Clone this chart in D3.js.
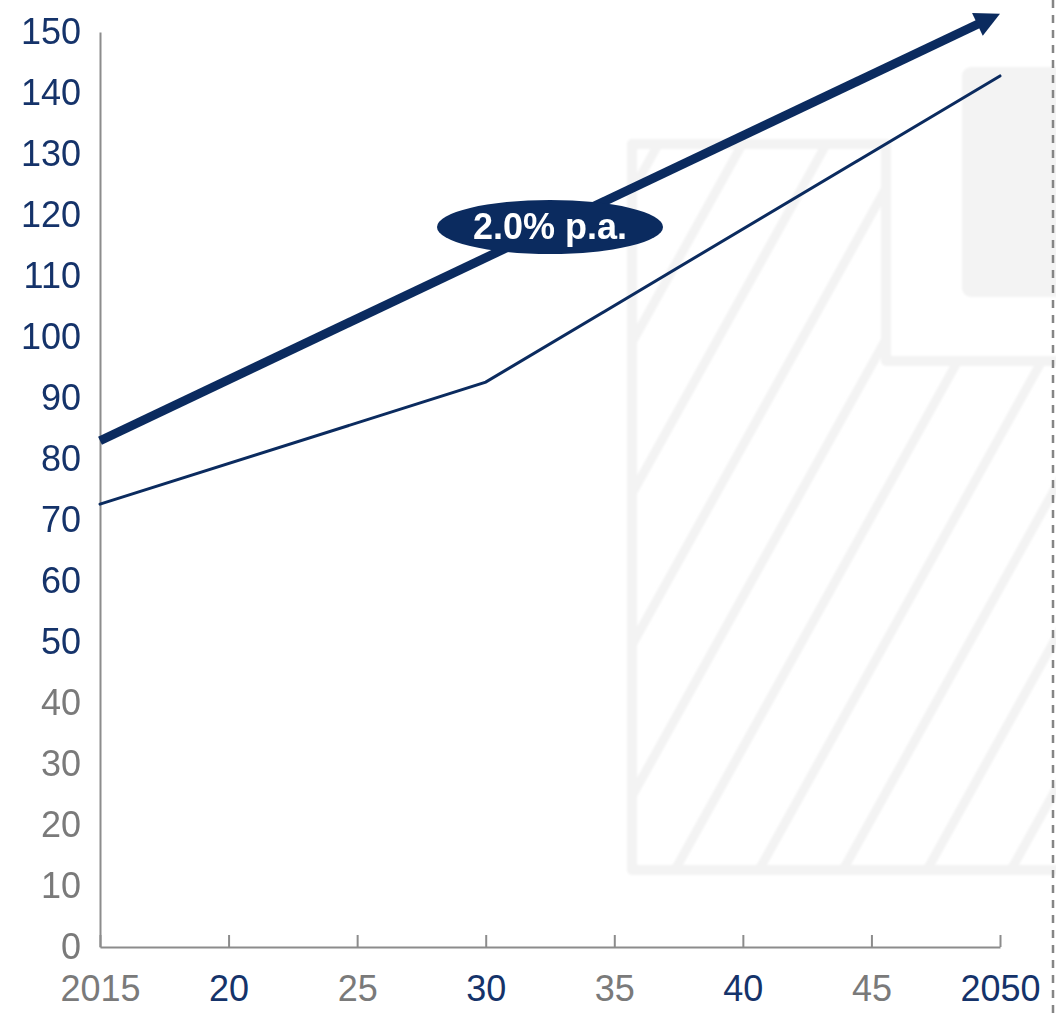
<!DOCTYPE html>
<html>
<head>
<meta charset="utf-8">
<script src="https://cdn.jsdelivr.net/npm/d3@7"></script>
<style>
  html, body { margin: 0; padding: 0; background: #ffffff; }
  svg { display: block; }
  text { font-family: "Liberation Sans", Arial, sans-serif; }
</style>
</head>
<body>
<svg id="chart" width="1056" height="1017"></svg>
<script>
// ---- data ----
const xTickYears  = [2015, 2020, 2025, 2030, 2035, 2040, 2045, 2050];
const xTickLabels = ["2015", "20", "25", "30", "35", "40", "45", "2050"];
const yTickValues = [0, 10, 20, 30, 40, 50, 60, 70, 80, 90, 100, 110, 120, 130, 140, 150];

// index path
const seriesYears  = [2015, 2030, 2050];
const seriesValues = [72.6, 92.6, 142.8];

// trend arrow (start value, value at the arrow tip)
const trendYears  = [2015, 2050];
const trendValues = [83, 153];
const trendLabel  = "2.0% p.a.";

// ---- setup ----
const W = 1056, H = 1017;
const margin = { left: 100, right: 56, top: 32, bottom: 70 };
const navy = "#0b2b5f";
const navyText = "#15336a";
const greyText = "#7a7a7a";
const faint = "#f3f3f3";

const svg = d3.select("#chart");
const defs = svg.append("defs");
defs.append("filter").attr("id", "soft")
  .append("feGaussianBlur").attr("stdDeviation", 0.8);

const x = d3.scaleLinear().domain([2015, 2050]).range([margin.left, W - margin.right]);
const y = d3.scaleLinear().domain([0, 150]).range([H - margin.bottom, margin.top]);

// ---- faint background emblem ----
const bg = svg.append("g").attr("filter", "url(#soft)");
const shape = [[632, 144], [886, 144], [886, 361], [1070, 361], [1070, 870], [632, 870]];
const shapePath = "M" + shape.map(p => p.join(",")).join("L") + "Z";

bg.append("rect")
  .attr("x", 962).attr("y", 67).attr("width", 130).attr("height", 230)
  .attr("rx", 9).attr("fill", faint);

defs.append("clipPath").attr("id", "emblem-clip")
  .append("path").attr("d", shapePath);

const hatch = bg.append("g").attr("clip-path", "url(#emblem-clip)");
const slope = 1.8, step = 84, base = 675;
for (let k = -12; k <= 6; k++) {
  const bx = base + k * step;
  hatch.append("line")
    .attr("x1", bx).attr("y1", 870)
    .attr("x2", bx + 800 / slope).attr("y2", 70)
    .attr("stroke", faint).attr("stroke-width", 9);
}
bg.append("path").attr("d", shapePath)
  .attr("fill", "none").attr("stroke", faint)
  .attr("stroke-width", 10).attr("stroke-linejoin", "round");

// ---- dashed divider at right ----
svg.append("line")
  .attr("x1", 1053).attr("x2", 1053).attr("y1", 0).attr("y2", H)
  .attr("stroke", "#858585").attr("stroke-width", 2.5)
  .attr("stroke-dasharray", "8 7");

// ---- axes ----
const emphasisYears = new Set([2020, 2030, 2040, 2050]);

const xAxis = d3.axisBottom(x)
  .tickValues(xTickYears)
  .tickFormat((d, i) => xTickLabels[i])
  .tickSizeInner(-12).tickSizeOuter(0).tickPadding(28);

const gx = svg.append("g")
  .attr("transform", `translate(0,${y(0)})`)
  .call(xAxis);
gx.select(".domain").attr("stroke", "#8c8c8c").attr("stroke-width", 2);
gx.selectAll(".tick line").attr("stroke", "#8c8c8c").attr("stroke-width", 2);
gx.selectAll(".tick text")
  .attr("font-size", 36)
  .attr("font-family", "'Liberation Sans', Arial, sans-serif")
  .attr("fill", d => emphasisYears.has(d) ? navyText : greyText);

const yAxis = d3.axisLeft(y)
  .tickValues(yTickValues)
  .tickSize(0).tickPadding(19);

const gy = svg.append("g")
  .attr("transform", `translate(${x(2015)},0)`)
  .call(yAxis);
gy.select(".domain").attr("stroke", "#8c8c8c").attr("stroke-width", 2);
gy.selectAll(".tick text")
  .attr("font-size", 36)
  .attr("font-family", "'Liberation Sans', Arial, sans-serif")
  .attr("fill", d => d >= 50 ? navyText : greyText);

// ---- index line ----
const line = d3.line().x(d => x(d[0])).y(d => y(d[1]));
svg.append("path")
  .datum(seriesYears.map((yr, i) => [yr, seriesValues[i]]))
  .attr("d", line)
  .attr("fill", "none").attr("stroke", navy)
  .attr("stroke-width", 3).attr("stroke-linecap", "round");

// ---- trend arrow ----
const p0 = [x(trendYears[0]), y(trendValues[0])];
const p1 = [x(trendYears[1]), y(trendValues[1])];
const len = Math.hypot(p1[0] - p0[0], p1[1] - p0[1]);
const d = [(p1[0] - p0[0]) / len, (p1[1] - p0[1]) / len];
const n = [-d[1], d[0]];
const headLen = 25, headHalf = 12.5;
const baseP = [p1[0] - headLen * d[0], p1[1] - headLen * d[1]];

svg.append("line")
  .attr("x1", p0[0]).attr("y1", p0[1])
  .attr("x2", baseP[0] + 2 * d[0]).attr("y2", baseP[1] + 2 * d[1])
  .attr("stroke", navy).attr("stroke-width", 9);

svg.append("path")
  .attr("d", `M${p1[0]},${p1[1]}` +
             `L${baseP[0] + headHalf * n[0]},${baseP[1] + headHalf * n[1]}` +
             `L${baseP[0] - headHalf * n[0]},${baseP[1] - headHalf * n[1]}Z`)
  .attr("fill", navy);

// ---- growth-rate badge ----
const badge = svg.append("g").attr("transform", "translate(550,227)");
badge.append("ellipse")
  .attr("rx", 113).attr("ry", 27)
  .attr("fill", navy);
badge.append("text")
  .attr("text-anchor", "middle")
  .attr("y", 12)
  .attr("font-size", 36)
  .attr("font-weight", "bold")
  .attr("fill", "#ffffff")
  .text(trendLabel);
</script>
</body>
</html>
